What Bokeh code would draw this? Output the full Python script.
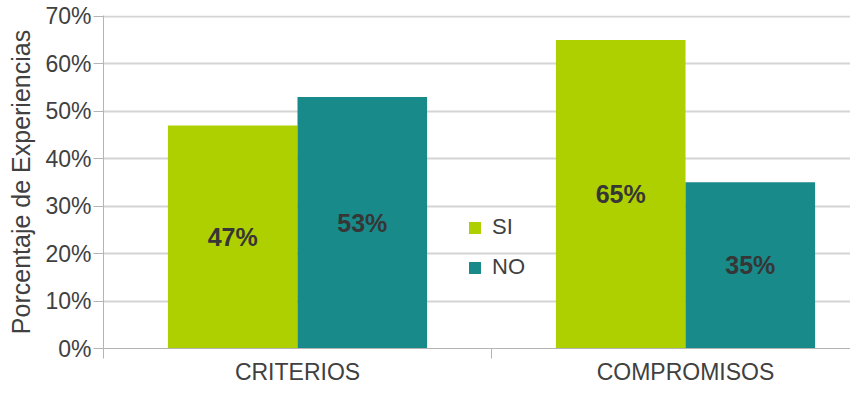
from bokeh.plotting import figure
from bokeh.models import FixedTicker, NumeralTickFormatter, Range1d, Legend, LegendItem, ColumnDataSource
from bokeh.core.properties import value
from bokeh.embed import file_html
from bokeh.resources import INLINE

categories = ["CRITERIOS", "COMPROMISOS"]
si_values = [0.47, 0.65]
no_values = [0.53, 0.35]
y_ticks = [0.0, 0.1, 0.2, 0.3, 0.4, 0.5, 0.6, 0.7]

SI_COLOR = "#afd000"
NO_COLOR = "#188a89"
TEXT = "#404040"
FONT = "Liberation Sans"

bar_w = 0.334
idx = list(range(len(categories)))
si_x = [i + 0.5 - bar_w / 2 for i in idx]
no_x = [i + 0.5 + bar_w / 2 for i in idx]

LEFT, TOP = 103, 15
FW, FH = 747, 333
p = figure(width=850, height=386, output_backend="svg", toolbar_location=None,
           x_range=Range1d(0, FW / 388), y_range=Range1d(0, 0.7015))
p.frame_width = FW
p.frame_height = FH
p.min_border_left = LEFT
p.min_border_right = 0
p.min_border_top = TOP
p.min_border_bottom = 0
p.outline_line_color = None
p.background_fill_color = "white"
p.border_fill_color = "white"

# grid
p.xgrid.grid_line_color = None
p.ygrid.grid_line_color = "#d4d4d4"
p.ygrid.grid_line_width = 2
p.ygrid.ticker = FixedTicker(ticks=y_ticks)

# y axis
p.yaxis.ticker = FixedTicker(ticks=y_ticks)
p.yaxis.formatter = NumeralTickFormatter(format="0%")
p.yaxis.axis_label = "Porcentaje de Experiencias"
p.yaxis.axis_label_text_font = FONT
p.yaxis.axis_label_text_font_size = "25px"
p.yaxis.axis_label_text_font_style = "normal"
p.yaxis.axis_label_text_color = TEXT
p.yaxis.axis_label_standoff = 7
p.yaxis.major_label_text_font = FONT
p.yaxis.major_label_text_font_size = "23px"
p.yaxis.major_label_text_color = TEXT
p.yaxis.major_label_standoff = 2
p.yaxis.axis_line_color = "#b4b4b4"
p.yaxis.major_tick_line_color = "#b4b4b4"
p.yaxis.major_tick_out = 10
p.yaxis.major_tick_in = 0
p.yaxis.minor_tick_line_color = None

# x axis
p.xaxis.ticker = FixedTicker(ticks=[i + 0.5 for i in idx], minor_ticks=[float(i) for i in idx] + [float(len(idx))])
p.xaxis.major_label_overrides = {i + 0.5: c for i, c in zip(idx, categories)}
p.xaxis.major_label_text_font = FONT
p.xaxis.major_label_text_font_size = "23px"
p.xaxis.major_label_text_color = TEXT
p.xaxis.major_tick_line_color = None
p.xaxis.major_tick_out = 10
p.xaxis.major_label_standoff = 0
p.xaxis.minor_tick_line_color = "#b4b4b4"
p.xaxis.minor_tick_out = 10
p.xaxis.minor_tick_in = 0
p.xaxis.axis_line_color = "#b4b4b4"

r_si = p.vbar(x=si_x, top=si_values, width=bar_w, fill_color=SI_COLOR, line_color=None)
r_no = p.vbar(x=no_x, top=no_values, width=bar_w, fill_color=NO_COLOR, line_color=None)

labels = ColumnDataSource(dict(
    x=si_x + no_x,
    y=[v / 2 for v in si_values + no_values],
    t=[f"{round(v * 100)}%" for v in si_values + no_values],
))
p.text(x="x", y="y", text="t", source=labels, text_align="center", text_baseline="middle",
       text_font=value(FONT), text_font_size="25px", text_font_style="bold", text_color="#363636")

legend = Legend(items=[LegendItem(label="SI", renderers=[r_si]), LegendItem(label="NO", renderers=[r_no])],
                location=(364, 68), orientation="vertical")
legend.background_fill_alpha = 0
legend.border_line_color = None
legend.padding = 0
legend.margin = 0
legend.glyph_width = 15
legend.glyph_height = 15
legend.label_standoff = 10
legend.spacing = 14
legend.label_text_font = FONT
legend.label_text_font_size = "22px"
legend.label_text_color = TEXT
p.add_layout(legend, "center")

open("out.html", "w").write(file_html(p, INLINE))
